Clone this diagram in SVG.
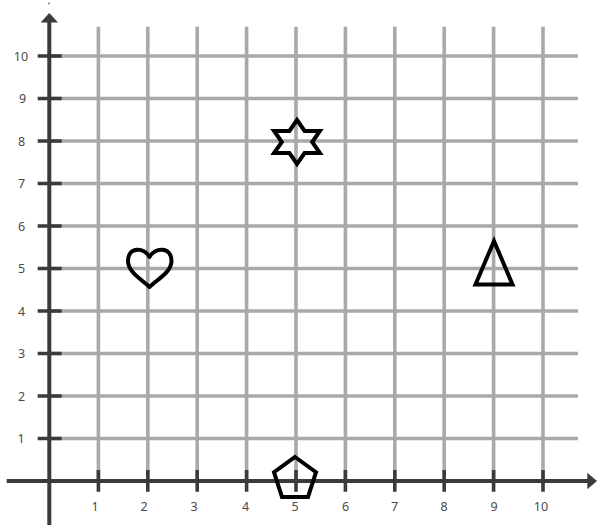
<svg xmlns="http://www.w3.org/2000/svg" width="597" height="525" viewBox="0 0 597 525">
<style>
.grid{stroke:#a9a9a9;stroke-width:3.6;fill:none}
.axis{stroke:#3b3b3b;stroke-width:4;fill:none}
.tick{stroke:#3b3b3b;stroke-width:3.6;fill:none}
.lbl{font-family:"Noto Sans","Liberation Sans",sans-serif;font-size:12.5px;fill:#4a4a4a;text-anchor:middle}
.shape{fill:none;stroke:#000;stroke-width:4;stroke-linejoin:miter}
</style>
<rect width="597" height="525" fill="#fff"/>
<g id="grid">
<path class="grid" d="M98.4 26.7V481M147.8 26.7V481M197.2 26.7V481M246.6 26.7V481M296 26.7V481M345.4 26.7V481M394.8 26.7V481M444.2 26.7V481M493.6 26.7V481M543 26.7V481"/>
<path class="grid" d="M49 438.5H578M49 396H578M49 353.5H578M49 311H578M49 268.5H578M49 226H578M49 183.5H578M49 141H578M49 98.5H578M49 56H578"/>
</g>
<g id="axes">
<circle cx="49" cy="3.5" r="0.9" fill="#777"/>
<path class="axis" d="M49.3 20V525"/>
<path d="M49.3 13L58 22.5H40.6Z" fill="#3b3b3b"/>
<path class="axis" d="M6.7 481H589"/>
<path d="M597 481L587.3 472.8V489.2Z" fill="#3b3b3b"/>
<path class="tick" d="M37.7 438.5H61.7M37.7 396H61.7M37.7 353.5H61.7M37.7 311H61.7M37.7 268.5H61.7M37.7 226H61.7M37.7 183.5H61.7M37.7 141H61.7M37.7 98.5H61.7M37.7 56H61.7"/>
<path class="tick" d="M98.4 470V491.7M147.8 470V491.7M197.2 470V491.7M246.6 470V491.7M296 470V491.7M345.4 470V491.7M394.8 470V491.7M444.2 470V491.7M493.6 470V491.7M543 470V491.7"/>
</g>
<g id="labels">
<text class="lbl" x="21" y="443">1</text>
<text class="lbl" x="21.5" y="400.5">2</text>
<text class="lbl" x="21.5" y="358">3</text>
<text class="lbl" x="21.5" y="315.5">4</text>
<text class="lbl" x="21.5" y="273">5</text>
<text class="lbl" x="21.5" y="230.5">6</text>
<text class="lbl" x="21.5" y="188">7</text>
<text class="lbl" x="21.5" y="145.5">8</text>
<text class="lbl" x="22.5" y="103">9</text>
<text class="lbl" x="21" y="60.5">10</text>
<text class="lbl" x="95" y="511">1</text>
<text class="lbl" x="144.2" y="511">2</text>
<text class="lbl" x="194" y="511">3</text>
<text class="lbl" x="245.5" y="511">4</text>
<text class="lbl" x="295" y="511">5</text>
<text class="lbl" x="345.5" y="511">6</text>
<text class="lbl" x="394.5" y="511">7</text>
<text class="lbl" x="444" y="511">8</text>
<text class="lbl" x="494" y="511">9</text>
<text class="lbl" x="541" y="511">10</text>
</g>
<g id="star">
<path class="shape" d="M297 120L304.6 131L319.9 131L312.2 142L319.9 153L304.6 153L297 164L289.4 153L274.1 153L281.8 142L274.1 131L289.4 131Z"/>
</g>
<g id="heart">
<path class="shape" style="stroke-linejoin:round" d="M149.5 257C145 247.5 128 246 128 261C128 272 141 279 149.5 287C158 279 171.5 272 171.5 261C171.5 246 154 247.5 149.5 257Z"/>
</g>
<g id="triangle">
<path class="shape" d="M494 241L512.5 284.5H475.5Z"/>
</g>
<g id="pentagon">
<path class="shape" d="M295 457L316 472.2L308 497H282L274 472.2Z"/>
</g>
</svg>
